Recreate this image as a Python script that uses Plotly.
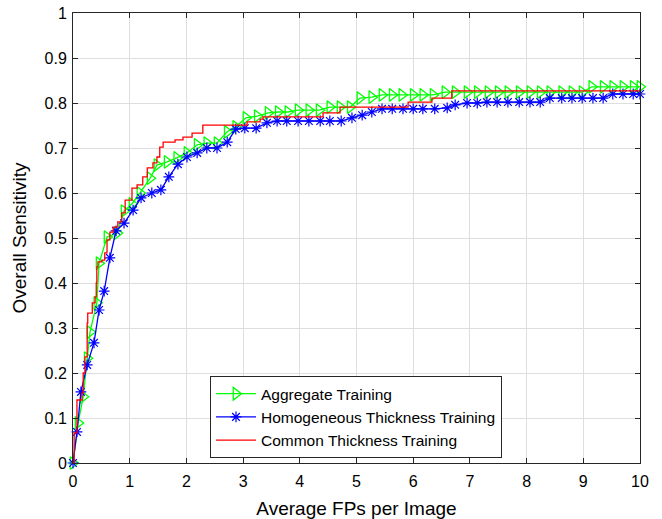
import plotly.graph_objects as go

# Aggregate Training (green, right-pointing triangles)
agg_x = [0, 0.09, 0.18, 0.25, 0.30, 0.42, 0.46, 0.60, 0.78, 0.90, 1.04, 1.18, 1.36, 1.48, 1.66,
         1.83, 2.01, 2.19, 2.36, 2.54, 2.72, 2.87, 3.05, 3.25, 3.44, 3.62, 3.79, 3.97, 4.16,
         4.34, 4.53, 4.71, 4.89, 5.06, 5.27, 5.45, 5.63, 5.80, 6.00, 6.17, 6.35, 6.56, 6.74,
         6.95, 7.13, 7.32, 7.50, 7.67, 7.87, 8.06, 8.24, 8.41, 8.62, 8.80, 8.98, 9.15, 9.35,
         9.52, 9.70, 9.88, 10.0]
agg_y = [0, 0.089, 0.147, 0.233, 0.291, 0.356, 0.444, 0.502, 0.511, 0.560, 0.576, 0.600, 0.633,
         0.662, 0.669, 0.678, 0.689, 0.707, 0.711, 0.711, 0.736, 0.747, 0.767, 0.771, 0.778,
         0.780, 0.780, 0.784, 0.784, 0.784, 0.791, 0.791, 0.791, 0.811, 0.813, 0.818, 0.818,
         0.818, 0.818, 0.818, 0.818, 0.824, 0.824, 0.824, 0.824, 0.824, 0.824, 0.824, 0.824,
         0.824, 0.824, 0.824, 0.824, 0.824, 0.824, 0.836, 0.836, 0.836, 0.836, 0.836, 0.836]

# Homogeneous Thickness Training (blue, asterisks)
hom_x = [0, 0.07, 0.14, 0.25, 0.37, 0.46, 0.55, 0.65, 0.76, 0.90, 1.06, 1.20, 1.39, 1.55, 1.69,
         1.85, 2.01, 2.19, 2.36, 2.54, 2.72, 2.87, 3.03, 3.23, 3.42, 3.60, 3.77, 3.97, 4.16,
         4.36, 4.53, 4.73, 4.92, 5.10, 5.27, 5.45, 5.63, 5.82, 6.00, 6.17, 6.38, 6.60, 6.74,
         6.95, 7.13, 7.30, 7.48, 7.67, 7.87, 8.06, 8.24, 8.41, 8.62, 8.80, 8.98, 9.17, 9.35,
         9.52, 9.70, 9.88, 10.0]
hom_y = [0, 0.069, 0.158, 0.218, 0.267, 0.340, 0.382, 0.456, 0.516, 0.533, 0.562, 0.589, 0.600,
         0.607, 0.636, 0.664, 0.680, 0.689, 0.700, 0.700, 0.713, 0.742, 0.744, 0.744, 0.756,
         0.760, 0.760, 0.760, 0.760, 0.760, 0.760, 0.760, 0.767, 0.773, 0.780, 0.787, 0.787,
         0.787, 0.787, 0.787, 0.787, 0.789, 0.796, 0.800, 0.800, 0.802, 0.802, 0.802, 0.802,
         0.802, 0.802, 0.811, 0.811, 0.811, 0.811, 0.811, 0.811, 0.820, 0.820, 0.820, 0.820]

# Common Thickness Training (red, staircase)
com_x = [0, 0.02, 0.07, 0.16, 0.18, 0.21, 0.25, 0.26, 0.34, 0.39, 0.41, 0.42, 0.44, 0.51, 0.56,
         0.60, 0.65, 0.71, 0.79, 0.86, 0.92, 1.04, 1.13, 1.23, 1.31, 1.41, 1.48, 1.53, 1.59,
         1.80, 1.94, 2.10, 2.29, 3.07, 3.30, 3.35, 4.41, 4.71, 5.91, 6.33, 6.68, 10.0]
com_y = [0, 0.067, 0.140, 0.156, 0.200, 0.236, 0.311, 0.333, 0.356, 0.369, 0.400, 0.436, 0.447,
         0.451, 0.467, 0.496, 0.513, 0.524, 0.536, 0.556, 0.584, 0.611, 0.618, 0.636, 0.656,
         0.667, 0.680, 0.702, 0.713, 0.718, 0.724, 0.733, 0.751, 0.758, 0.764, 0.769, 0.778,
         0.791, 0.802, 0.811, 0.827, 0.827]

x_ticks = [0, 1, 2, 3, 4, 5, 6, 7, 8, 9, 10]
y_ticks = [0, 0.1, 0.2, 0.3, 0.4, 0.5, 0.6, 0.7, 0.8, 0.9, 1]
y_tick_text = ["0", "0.1", "0.2", "0.3", "0.4", "0.5", "0.6", "0.7", "0.8", "0.9", "1"]

FONT = "Liberation Sans, Arial, sans-serif"
AX = "#262626"
GRID = "#dedede"
TXT = "#000000"

fig = go.Figure()
fig.add_trace(go.Scatter(
    x=agg_x, y=agg_y, mode="lines+markers", name="Aggregate Training",
    line=dict(color="#00ff00", width=1.3),
    marker=dict(symbol="triangle-right-open", size=11, color="#00ff00", line=dict(width=1.3)),
    cliponaxis=False))
fig.add_trace(go.Scatter(
    x=hom_x, y=hom_y, mode="lines+markers", name="Homogeneous Thickness Training",
    line=dict(color="#0000ff", width=1.3),
    marker=dict(symbol="asterisk-open", size=9, color="#0000ff", line=dict(width=1.2, color="#0000ff")),
    cliponaxis=False))
fig.add_trace(go.Scatter(
    x=com_x, y=com_y, mode="lines", name="Common Thickness Training",
    line=dict(color="#ff0000", width=1.3, shape="hv"),
    cliponaxis=False))

axis_common = dict(
    showline=True, linecolor=AX, linewidth=1, mirror="ticks",
    ticks="inside", ticklen=5, tickcolor=AX, tickwidth=1,
    showgrid=True, gridcolor=GRID, gridwidth=1, zeroline=False,
    automargin=False,
    tickfont=dict(family=FONT, size=16, color=TXT),
)

fig.update_layout(
    width=662, height=519,
    margin=dict(l=73, r=22, t=13, b=56),
    paper_bgcolor="white", plot_bgcolor="white",
    font=dict(family=FONT, color=TXT),
    xaxis=dict(range=[0, 10], tickvals=x_ticks, ticklabelstandoff=4,
               title=dict(text="Average FPs per Image", font=dict(family=FONT, size=19, color=TXT), standoff=16),
               **axis_common),
    yaxis=dict(range=[0, 1], tickvals=y_ticks, ticktext=y_tick_text, ticklabelstandoff=2,
               title=dict(text="Overall Sensitivity", font=dict(family=FONT, size=19, color=TXT), standoff=12),
               **axis_common),
    legend=dict(x=0.2416, y=0.193, xanchor="left", yanchor="top",
                bgcolor="white", bordercolor=AX, borderwidth=1,
                font=dict(family=FONT, size=15.5, color=TXT),
                itemwidth=40, tracegroupgap=0),
    showlegend=True,
)

fig.write_html("out.html")
